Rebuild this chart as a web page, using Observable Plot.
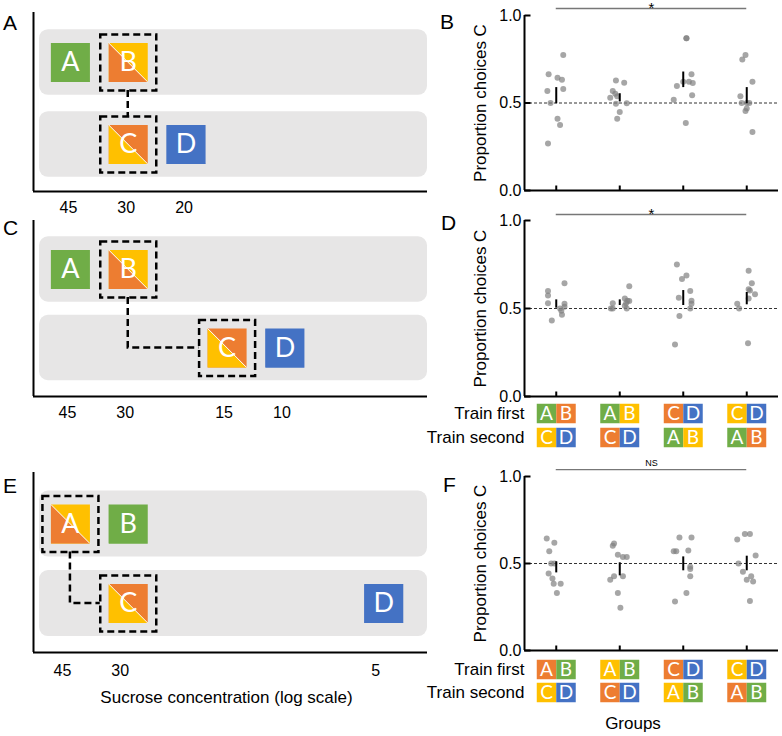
<!DOCTYPE html>
<html><head><meta charset="utf-8">
<script src="https://cdn.jsdelivr.net/npm/d3@7"></script>
<script src="https://cdn.jsdelivr.net/npm/@observablehq/plot@0.6"></script>
<style>
body{margin:0;background:#fff;}
#fig{position:relative;width:782px;height:736px;background:#fff;font-family:"Liberation Sans",Arial,sans-serif;overflow:hidden;}
#fig svg{position:absolute;}
.lbl{position:absolute;font-size:21px;line-height:1;color:#000;white-space:nowrap;}
</style></head><body><div id="fig"></div>
<script>
// ---------------- data ----------------
const colorNames = ["grn","org","ylw","blu"];
const colorHex = ["#70ad47","#ed7d31","#ffc000","#4472c4"];
const rowLevels = [1, 2];

// Panel A diagram
const aLetters = ["A","B","C","D"];
const aConc = [45, 30, 30, 20];
const aRow = [1, 1, 2, 2];
const aLower = ["grn","org","ylw","blu"];
const aUpper = ["grn","ylw","org","blu"];
const aBoxed = ["B","C"];
const aTicks = [45, 30, 20];

// Panel C diagram
const cLetters = ["A","B","C","D"];
const cConc = [45, 30, 15, 10];
const cRow = [1, 1, 2, 2];
const cLower = ["grn","org","ylw","blu"];
const cUpper = ["grn","ylw","org","blu"];
const cBoxed = ["B","C"];
const cTicks = [45, 30, 15, 10];

// Panel E diagram
const eLetters = ["A","B","C","D"];
const eConc = [45, 30, 30, 5];
const eRow = [1, 1, 2, 2];
const eLower = ["org","grn","ylw","blu"];
const eUpper = ["ylw","grn","org","blu"];
const eBoxed = ["A","C"];
const eTicks = [45, 30, 5];
const xAxisTitle = "Sucrose concentration (log scale)";

// Dot panels
const groups = [1, 2, 3, 4];
const yTicks = [0, 0.5, 1];
const yTitle = "Proportion choices C";

const B_vals = [
  [0.774,0.664,0.645,0.633,0.569,0.580,0.500,0.410,0.374,0.268],
  [0.628,0.616,0.569,0.553,0.530,0.538,0.496,0.498,0.449,0.410],
  [0.870,0.870,0.664,0.622,0.622,0.614,0.597,0.544,0.519,0.386],
  [0.774,0.748,0.622,0.538,0.500,0.500,0.500,0.468,0.454,0.334]
];
const B_jit = [
  [0.11,-0.12,0.02,0.09,-0.14,0.11,-0.09,0.02,0.06,-0.13],
  [-0.06,0.07,-0.11,-0.07,-0.15,-0.04,-0.06,0.11,0.00,-0.04],
  [0.05,0.05,0.13,0.00,0.09,0.15,-0.10,0.14,-0.15,0.04],
  [-0.02,-0.07,0.09,-0.10,-0.08,0.00,0.04,0.00,-0.02,0.09]
];
const B_lo = [0.496, 0.506, 0.588, 0.496];
const B_hi = [0.588, 0.553, 0.677, 0.588];
const B_sig = "*";

const D_vals = [
  [0.600,0.574,0.644,0.530,0.527,0.500,0.487,0.464,0.432,0.510],
  [0.627,0.557,0.544,0.530,0.530,0.542,0.500,0.500,0.500,0.515],
  [0.750,0.688,0.667,0.600,0.561,0.544,0.527,0.500,0.458,0.296],
  [0.714,0.644,0.610,0.602,0.581,0.557,0.527,0.500,0.302]
];
const D_jit = [
  [-0.13,-0.13,0.13,-0.13,0.13,0.06,0.08,0.09,-0.07,0.13],
  [0.15,0.08,0.12,-0.11,0.10,0.15,-0.14,-0.11,0.11,0.08],
  [-0.10,0.05,-0.02,0.11,-0.07,0.13,0.13,0.11,-0.06,-0.13],
  [0.03,0.08,0.03,0.05,0.13,0.03,-0.15,-0.12,0.02]
];
const D_lo = [0.502, 0.517, 0.517, 0.521];
const D_hi = [0.549, 0.549, 0.602, 0.591];
const D_sig = "*";

const F_vals = [
  [0.644,0.619,0.571,0.500,0.500,0.443,0.414,0.383,0.383,0.331],
  [0.615,0.602,0.550,0.538,0.538,0.427,0.406,0.427,0.331,0.245],
  [0.649,0.649,0.571,0.571,0.575,0.481,0.469,0.427,0.331,0.282],
  [0.638,0.669,0.669,0.546,0.500,0.452,0.427,0.406,0.397,0.284]
];
const F_jit = [
  [-0.15,-0.03,-0.11,-0.08,-0.03,-0.12,-0.06,-0.04,0.07,0.01],
  [-0.09,-0.11,-0.03,0.05,0.11,-0.09,-0.15,0.05,-0.03,0.01],
  [-0.06,0.13,-0.15,-0.11,0.08,0.11,0.11,0.11,0.05,-0.13],
  [-0.15,-0.03,0.05,0.14,-0.13,-0.06,0.07,0.00,0.10,0.05]
];
const F_lo = [0.446, 0.429, 0.458, 0.458];
const F_hi = [0.510, 0.504, 0.538, 0.542];
const F_sig = "NS";

// Legend (training order per group)
const legendRows = ["Train first", "Train second"];
const firstLetters = [["A","B"],["A","B"],["C","D"],["C","D"]];
const secondLetters = [["C","D"],["C","D"],["A","B"],["A","B"]];
const D_firstCols = [["grn","org"],["grn","ylw"],["org","blu"],["ylw","blu"]];
const D_secondCols = [["ylw","blu"],["org","blu"],["grn","ylw"],["grn","org"]];
const F_firstCols = [["org","grn"],["ylw","grn"],["org","blu"],["ylw","blu"]];
const F_secondCols = [["ylw","blu"],["org","blu"],["ylw","grn"],["org","grn"]];

// ---------------- rendering ----------------
const FONT = '"Liberation Sans", Arial, sans-serif';
const LETTER_FONT = 'Lato, "Open Sans", sans-serif';
const COLOR = {type: "ordinal", domain: colorNames, range: colorHex};
const fig = document.getElementById("fig");
const baseStyle = {fontFamily: FONT, fontSize: "16px", background: "transparent", overflow: "visible", color: "#000"};

const lowerTri = {draw(c, s) { const h = Math.sqrt(s) / 2; c.moveTo(-h, -h); c.lineTo(-h, h); c.lineTo(h, h); c.closePath(); }};
const diagSym = {draw(c, s) { const h = Math.sqrt(s) / 2; c.moveTo(-h, -h); c.lineTo(h, h); }};
const tickRight = {draw(c) { c.moveTo(0, 0); c.lineTo(6, 0); }};
const tickUp = {draw(c) { c.moveTo(0, 0); c.lineTo(0, -5); }};

function place(el, left, top) { el.style.left = left + "px"; el.style.top = top + "px"; fig.appendChild(el); }

function leftPanel(cfg) {
  const items = cfg.letters.map((L, i) => ({L, conc: cfg.conc[i], row: cfg.row[i], lower: cfg.lower[i], upper: cfg.upper[i]}));
  const split = items.filter(d => d.lower !== d.upper);
  const boxed = items.filter(d => cfg.boxed.includes(d.L));
  const pair = cfg.boxed.map(L => items.find(d => d.L === L));
  const xDomain = [58.3, 3.68];
  const connector = (index, scales) => {
    const [a, b] = pair;
    const x1 = scales.x(a.conc), y1 = scales.y(a.row), x2 = scales.x(b.conc), y2 = scales.y(b.row);
    const h = 28;
    const d = Math.abs(x1 - x2) < 1 ? `M${x1},${y1 + h}V${y2 - h}` : `M${x1},${y1 + h}V${y2}H${x2 - h}`;
    const p = document.createElementNS("http://www.w3.org/2000/svg", "path");
    p.setAttribute("d", d);
    p.setAttribute("fill", "none");
    p.setAttribute("stroke", "#000");
    p.setAttribute("stroke-width", 2.5);
    p.setAttribute("stroke-dasharray", "7,4");
    return p;
  };
  const marks = [
    Plot.rect(rowLevels, {y1: d => d - cfg.half, y2: d => d + cfg.half, fill: "#e7e6e6", rx: 9, insetLeft: 6}),
    connector,
    Plot.dot(boxed, {x: "conc", y: "row", symbol: "square", r: 31.6, fill: "none", stroke: "#000", strokeWidth: 2.5, strokeDasharray: "7,4"}),
    Plot.dot(items, {x: "conc", y: "row", symbol: "square", r: 22, fill: "upper"}),
    Plot.dot(items, {x: "conc", y: "row", symbol: lowerTri, r: 22, fill: "lower"}),
    Plot.dot(split, {x: "conc", y: "row", symbol: diagSym, r: 22, fill: "none", stroke: "#fff", strokeWidth: 1}),
    Plot.text(items, {x: "conc", y: "row", text: "L", fill: "#fff", fontSize: 27, fontFamily: LETTER_FONT}),
    Plot.ruleX([xDomain[0]], {stroke: "#000", strokeWidth: 2}),
    Plot.ruleY([cfg.yDomain[0]], {stroke: "#000", strokeWidth: 2}),
    Plot.axisX({ticks: cfg.ticks, tickSize: 0, tickPadding: cfg.pad, tickFormat: d => String(d), fontSize: 16, dx: cfg.tickDx, label: null})
  ];
  if (cfg.xlabel) marks.push(Plot.text([cfg.xlabel], {frameAnchor: "bottom", text: d => d, textAnchor: "middle", lineAnchor: "middle", dy: 45, dx: -4, fontSize: 17}));
  return Plot.plot({
    width: 440, height: cfg.height, marginTop: cfg.mt, marginBottom: cfg.mb, marginLeft: 33, marginRight: 13,
    style: baseStyle,
    x: {type: "log", domain: xDomain, label: null},
    y: {domain: cfg.yDomain, axis: null},
    color: COLOR,
    marks
  });
}

function dotPanel(cfg) {
  const pts = cfg.vals.flatMap((vs, gi) => vs.map((v, j) => ({x: groups[gi] + cfg.jit[gi][j], y: v})));
  const bars = groups.map((g, i) => ({g, lo: cfg.lo[i], hi: cfg.hi[i]}));
  return Plot.plot({
    width: 342, height: cfg.height, marginTop: cfg.mt, marginBottom: cfg.mb, marginLeft: 84, marginRight: 4,
    style: baseStyle,
    x: {domain: [0.5, 4.5], axis: null},
    y: {domain: [0, 1], axis: null},
    marks: [
      Plot.ruleY([0.5], {stroke: "#333", strokeDasharray: "3,2", strokeWidth: 1}),
      Plot.ruleY([cfg.sigLevel], {x1: groups[0], x2: groups[groups.length - 1], stroke: "#777", strokeWidth: 1.3}),
      Plot.text([cfg.sig], {x: (groups[0] + groups[groups.length - 1]) / 2, y: cfg.sigLevel, text: d => d,
        fontSize: cfg.sig === "*" ? 15 : 9, dy: cfg.sig === "*" ? 0 : -6}),
      Plot.dot(pts, {x: "x", y: "y", r: 3, fill: "#808080", fillOpacity: 0.7}),
      Plot.ruleX(bars, {x: "g", y1: "lo", y2: "hi", stroke: "#000", strokeWidth: 2}),
      Plot.ruleX([0.5], {stroke: "#000", strokeWidth: 2}),
      Plot.ruleY([0], {stroke: "#000", strokeWidth: 2}),
      Plot.dot(yTicks, {x: 0.5, y: d => d, symbol: tickRight, fill: "none", stroke: "#000", strokeWidth: 2}),
      Plot.dot(groups, {x: d => d, y: 0, symbol: tickUp, fill: "none", stroke: "#000", strokeWidth: 2}),
      Plot.axisY({ticks: yTicks, tickSize: 0, tickPadding: 3, tickFormat: d3.format(".1f"), fontSize: 16, label: null}),
      Plot.text([yTitle], {frameAnchor: "left", text: d => d, textAnchor: "middle", lineAnchor: "middle", rotate: -90, dx: -44, fontSize: 17})
    ]
  });
}

function legendPanel(cfg) {
  const cells = [];
  groups.forEach((g, i) => {
    legendRows.forEach((row, ri) => {
      const letters = ri === 0 ? firstLetters[i] : secondLetters[i];
      const cols = ri === 0 ? cfg.first[i] : cfg.second[i];
      letters.forEach((L, k) => cells.push({g, row, L, col: cols[k], side: k}));
    });
  });
  const left = cells.filter(d => d.side === 0), right = cells.filter(d => d.side === 1);
  return Plot.plot({
    width: 342, height: cfg.height, marginTop: 0, marginBottom: 0, marginLeft: 84, marginRight: 4,
    style: baseStyle,
    x: {domain: [0.5, 4.5], axis: null},
    y: {type: "point", domain: legendRows, range: cfg.yRange, padding: 0, label: null},
    color: COLOR,
    marks: [
      Plot.dot(left, {x: "g", y: "row", fill: "col", symbol: "square", r: 11, dx: -9.75}),
      Plot.dot(right, {x: "g", y: "row", fill: "col", symbol: "square", r: 11, dx: 9.75}),
      Plot.text(left, {x: "g", y: "row", text: "L", fill: "#fff", fontSize: 19, fontFamily: LETTER_FONT, dx: -9.75}),
      Plot.text(right, {x: "g", y: "row", text: "L", fill: "#fff", fontSize: 19, fontFamily: LETTER_FONT, dx: 9.75}),
      Plot.axisY({tickSize: 0, tickPadding: 0, fontSize: 17, label: null})
    ]
  });
}

place(leftPanel({letters: aLetters, conc: aConc, row: aRow, lower: aLower, upper: aUpper, boxed: aBoxed, ticks: aTicks,
  height: 220, mt: 12, mb: 29, yDomain: [2.573, 0.39], half: 0.40, pad: 10, tickDx: -2}), 0, 0);
place(leftPanel({letters: cLetters, conc: cConc, row: cRow, lower: cLower, upper: cUpper, boxed: cBoxed, ticks: cTicks,
  height: 215, mt: 10, mb: 29, yDomain: [2.618, 0.376], half: 0.417, pad: 10, tickDx: -3}), 0, 210);
place(leftPanel({letters: eLetters, conc: eConc, row: eRow, lower: eLower, upper: eUpper, boxed: eBoxed, ticks: eTicks,
  height: 276, mt: 12, mb: 84, yDomain: [2.616, 0.352], half: 0.415, pad: 12, tickDx: -8, xlabel: xAxisTitle}), 0, 460);

place(dotPanel({vals: B_vals, jit: B_jit, lo: B_lo, hi: B_hi, sig: B_sig, sigLevel: 1.04, height: 200, mt: 15, mb: 10}), 440, 0);
place(dotPanel({vals: D_vals, jit: D_jit, lo: D_lo, hi: D_hi, sig: D_sig, sigLevel: 1.034, height: 202, mt: 20, mb: 6}), 440, 200);
place(legendPanel({first: D_firstCols, second: D_secondCols, height: 54, yRange: [15, 39]}), 440, 398);
place(dotPanel({vals: F_vals, jit: F_jit, lo: F_lo, hi: F_hi, sig: F_sig, sigLevel: 1.04, height: 200, mt: 21, mb: 5}), 440, 455);
place(legendPanel({first: F_firstCols, second: F_secondCols, height: 50, yRange: [14, 37]}), 440, 655);

// panel letters and group title
const panelLetters = [["A", 3, 12], ["C", 3, 217], ["E", 3, 475], ["B", 440, 11], ["D", 441, 212], ["F", 443, 474]];
panelLetters.forEach(([t, x, y]) => {
  const d = document.createElement("div"); d.className = "lbl"; d.textContent = t; place(d, x, y);
});
const g = document.createElement("div");
g.className = "lbl"; g.style.fontSize = "17px"; g.style.width = "200px"; g.style.textAlign = "center";
g.textContent = "Groups";
place(g, 533, 715);
</script></body></html>
